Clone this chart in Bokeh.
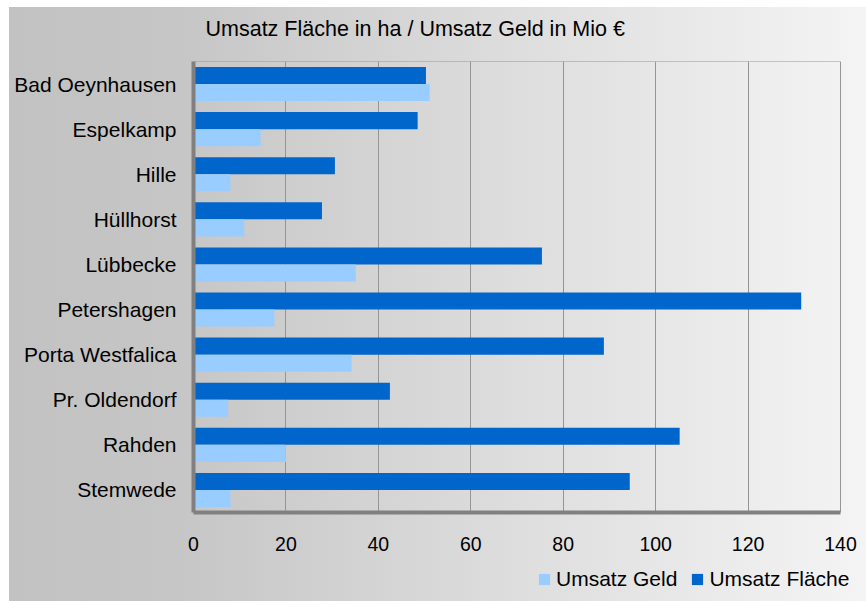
from bokeh.plotting import figure
from bokeh.layouts import column
from bokeh.models import FactorRange, Range1d, Legend, LegendItem, FixedTicker, ColumnDataSource, Label
from bokeh.transform import dodge
from bokeh.embed import file_html
from bokeh.resources import INLINE

# Umsatz je Gemeinde: Fläche in ha, Geld in Mio €
cities = ["Bad Oeynhausen", "Espelkamp", "Hille", "Hüllhorst", "Lübbecke",
          "Petershagen", "Porta Westfalica", "Pr. Oldendorf", "Rahden", "Stemwede"]
umsatz_flaeche = [50.3, 48.5, 30.6, 27.8, 75.4, 131.5, 88.8, 42.5, 105.2, 94.4]
umsatz_geld = [51.1, 14.5, 8.0, 11.0, 35.1, 17.5, 34.2, 7.5, 20.0, 8.0]
x_ticks = [0, 20, 40, 60, 80, 100, 120, 140]
series_names = ["Umsatz Geld", "Umsatz Fläche"]
chart_title = "Umsatz Fläche in ha / Umsatz Geld in Mio €"

FONT = "Liberation Sans"
DARK = "#0066CC"
LIGHT = "#99CCFF"
GRID = "#959595"
BG = {"background": "linear-gradient(to right, #c2c2c2 0%, #c6c6c6 20%, #dedede 60%, #f4f4f4 100%)"}

x_max = x_ticks[-1]
# the frame runs to the right edge so the legend strip below is not clipped;
# the value axis itself still ends at x_max
x_end = x_max * 673 / 647

source = ColumnDataSource(dict(city=cities, flaeche=umsatz_flaeche, geld=umsatz_geld))

# Title strip: ranges in pixels of its frame
tf = figure(
    width=857, height=54, output_backend="svg", toolbar_location=None,
    x_range=Range1d(0, 673), y_range=Range1d(0, 54),
    x_axis_location=None, y_axis_location=None,
    min_border=0, background_fill_color=None, border_fill_color=None,
    outline_line_color=None,
)
tf.margin = (7, 0, 0, 9)
tf.styles = BG
tf.grid.visible = False
tf.add_layout(Label(x=12, y=33, text=chart_title, text_font=FONT, text_font_size="21.5px",
                    text_color="#000000", text_align="left", text_baseline="middle"))

p = figure(
    width=857, height=500,
    y_range=FactorRange(factors=list(reversed(cities)), range_padding=0),
    x_range=Range1d(0, x_end),
    output_backend="svg", toolbar_location=None,
    min_border_left=184, min_border_right=0, min_border_top=0, min_border_bottom=49,
    background_fill_color=None, border_fill_color=None,
)
p.margin = (0, 0, 0, 9)
p.styles = BG

bar_h = 0.378
r_fl = p.hbar(y=dodge("city", bar_h / 2, range=p.y_range), right="flaeche", left=0,
              height=bar_h, color=DARK, line_color=None, source=source)
r_ge = p.hbar(y=dodge("city", -bar_h / 2, range=p.y_range), right="geld", left=0,
              height=bar_h, color=LIGHT, line_color=None, source=source)

# top edge of the plot area
p.segment(x0=[0], x1=[x_max], y0=[(cities[0], 0.5)], y1=[(cities[0], 0.5)],
          line_color=GRID, line_width=1)

# Grid
p.ygrid.grid_line_color = None
p.xgrid.ticker = FixedTicker(ticks=x_ticks)
p.xgrid.grid_line_color = GRID
p.xgrid.grid_line_width = 1
p.outline_line_color = None

# Axes
p.xaxis.ticker = FixedTicker(ticks=x_ticks)
p.xaxis.bounds = (0, x_max)
for ax in (p.xaxis[0], p.yaxis[0]):
    ax.axis_line_color = "#808080"
    ax.axis_line_width = 4
    ax.major_tick_line_color = None
    ax.minor_tick_line_color = None
    ax.major_tick_out = 0
    ax.major_tick_in = 0
    ax.major_label_text_font = FONT
    ax.major_label_text_color = "#000000"
p.yaxis.major_label_text_font_size = "21px"
p.xaxis.major_label_text_font_size = "19.5px"
p.xaxis.major_label_standoff = 24
p.yaxis.major_label_standoff = 17

# Legend strip underneath the chart; hidden swatch renderers carry the series colours
lg = figure(
    width=857, height=40, output_backend="svg", toolbar_location=None,
    x_range=Range1d(0, 1), y_range=Range1d(0, 1),
    x_axis_location=None, y_axis_location=None,
    min_border=0, background_fill_color=None, border_fill_color=None,
    outline_line_color=None,
)
lg.margin = (0, 0, 0, 9)
lg.styles = BG
lg.grid.visible = False
sw_ge = lg.hbar(y=[0], left=[0], right=[1], height=1, color=LIGHT, line_color=None, visible=False)
sw_fl = lg.hbar(y=[0], left=[0], right=[1], height=1, color=DARK, line_color=None, visible=False)

legend = Legend(
    items=[LegendItem(label=series_names[0], renderers=[sw_ge]),
           LegendItem(label=series_names[1], renderers=[sw_fl])],
    orientation="horizontal",
    location=(344, 10),
    label_text_font=FONT, label_text_font_size="21px", label_text_color="#000000",
    glyph_width=14, glyph_height=14, label_standoff=5, spacing=13,
    padding=0, margin=0,
    border_line_color=None, background_fill_alpha=0,
)
lg.add_layout(legend, "center")

layout = column(tf, p, lg, spacing=0)
open("out.html", "w").write(file_html(layout, INLINE))
